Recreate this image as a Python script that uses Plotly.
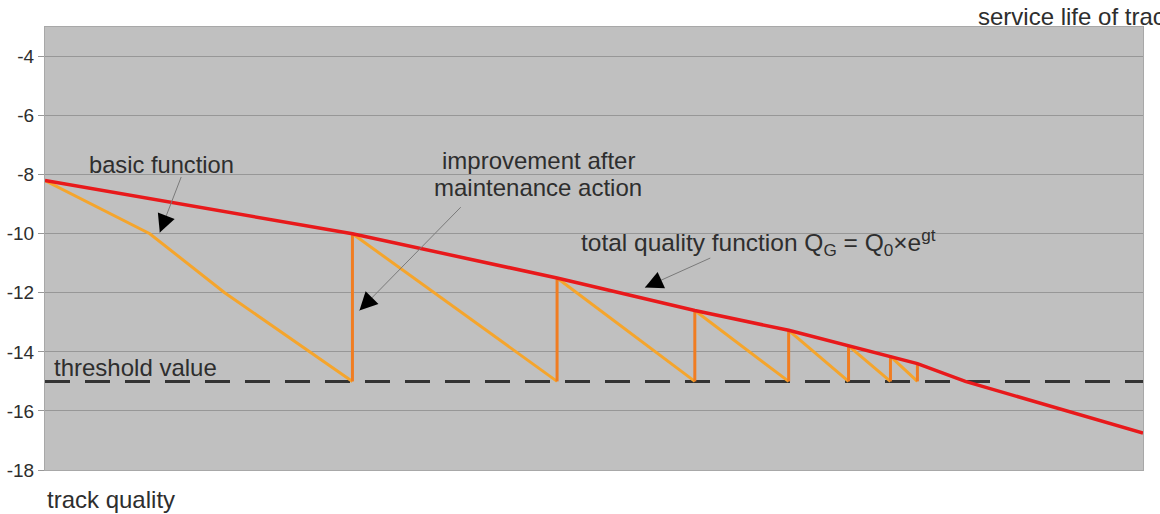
import plotly.graph_objects as go

# ---------------- data ----------------
# total quality function (red): service life vs. track quality
total_t = [0, 30.8, 51.3, 65.1, 74.5, 80.5, 84.7, 87.4, 92.2, 110]
total_q = [-8.2, -10.0, -11.5, -12.6, -13.27, -13.8, -14.15, -14.4, -15.0, -16.75]

# first basic-function decay (slightly curved)
first_decay_t = [0, 10.5, 18.0, 30.8]
first_decay_q = [-8.2, -10.0, -12.0, -15.0]

# maintenance actions: time and quality reached after the action
maint_t = [30.8, 51.3, 65.1, 74.5, 80.5, 84.7, 87.4]
maint_q_after = [-10.0, -11.5, -12.6, -13.27, -13.8, -14.15, -14.4]

threshold = -15.0
y_ticks = [-4, -6, -8, -10, -12, -14, -16, -18]
y_range = [-18, -3.0]
x_range = [0, 110]

# ---------------- build traces ----------------
FONT = "Arial, Liberation Sans, sans-serif"
TXT = "#2e2e2e"

# basic function segments (light orange)
bx, by = list(first_decay_t), list(first_decay_q)
for i in range(len(maint_t) - 1):
    bx += [None, maint_t[i], maint_t[i + 1]]
    by += [None, maint_q_after[i], threshold]

# improvement jumps (darker orange)
vx, vy = [], []
for t, q in zip(maint_t, maint_q_after):
    vx += [t, t, None]
    vy += [threshold, q, None]

fig = go.Figure()
fig.add_trace(go.Scatter(x=[x_range[0], x_range[1]], y=[threshold, threshold], mode="lines",
                         line=dict(color="#333333", width=3, dash="25px,15px"),
                         hoverinfo="skip", showlegend=False))
fig.add_trace(go.Scatter(x=bx, y=by, mode="lines",
                         line=dict(color="#f5a52c", width=3),
                         showlegend=False))
fig.add_trace(go.Scatter(x=vx, y=vy, mode="lines",
                         line=dict(color="#f07d22", width=3),
                         showlegend=False))
fig.add_trace(go.Scatter(x=total_t, y=total_q, mode="lines",
                         line=dict(color="#e8191b", width=3.5),
                         showlegend=False))

# ---------------- annotations ----------------
def txt(text, x, y, xanchor="left", size=24, xref="x", yref="y"):
    fig.add_annotation(text=text, x=x, y=y, xref=xref, yref=yref, xanchor=xanchor,
                       yanchor="middle", showarrow=False,
                       font=dict(family=FONT, size=size, color=TXT))

txt("basic function", 4.2, -7.66, size=23.7)
txt("improvement after", 49.4, -7.53, xanchor="center")
txt("maintenance action", 49.4, -8.44, xanchor="center")
txt("total quality function Q<sub>G</sub> = Q<sub>0</sub>×e<sup>gt</sup>", 53.5, -10.3, size=24.5)
txt("threshold value", 0.7, -14.52)
txt("service life of track", 0.848, 1.0226, xref="paper", yref="paper")
txt("track quality", 0.0, -0.0655, xref="paper", yref="paper")

def arrow(tip, tail):
    # thin grey leader line
    fig.add_annotation(x=tip[0], y=tip[1], ax=tail[0], ay=tail[1], xref="x", yref="y",
                       axref="x", ayref="y", text="", showarrow=True, arrowhead=0,
                       arrowwidth=1, arrowcolor="#7a7a7a", standoff=0)
    # black arrow head
    dx = (tail[0] - tip[0]) * 9.98
    dy = -(tail[1] - tip[1]) * 29.54
    n = (dx * dx + dy * dy) ** 0.5
    fig.add_annotation(x=tip[0], y=tip[1], ax=dx / n * 16, ay=dy / n * 16, xref="x", yref="y",
                       text="", showarrow=True, arrowhead=2, arrowsize=3.6,
                       arrowwidth=1, arrowcolor="#000000", standoff=0)

arrow((11.5, -9.96), (13.7, -8.03))
arrow((31.5, -12.6), (41.8, -9.05))
arrow((60.1, -11.82), (66.8, -10.8))

fig.update_layout(
    width=1160, height=514,
    margin=dict(l=45, r=17, t=27, b=44, autoexpand=False),
    paper_bgcolor="white",
    plot_bgcolor="#c0c0c0",
    font=dict(family=FONT, color=TXT),
    xaxis=dict(range=x_range, showgrid=False, showticklabels=False, zeroline=False,
               showline=True, mirror=True, linecolor="#a8a8a8", linewidth=1, ticks="",
               automargin=False),
    yaxis=dict(range=y_range, tickvals=y_ticks, ticktext=[str(v) for v in y_ticks],
               showgrid=True, gridcolor="#979797", gridwidth=1, zeroline=False,
               showline=True, mirror=True, linecolor="#a8a8a8", linewidth=1,
               ticks="outside", ticklen=6, tickcolor="#979797", automargin=False,
               tickfont=dict(family=FONT, size=19, color=TXT)),
)

fig.write_html("out.html", config={"displayModeBar": False},
               post_script="document.body.style.margin='0px';document.body.style.overflow='hidden';")
